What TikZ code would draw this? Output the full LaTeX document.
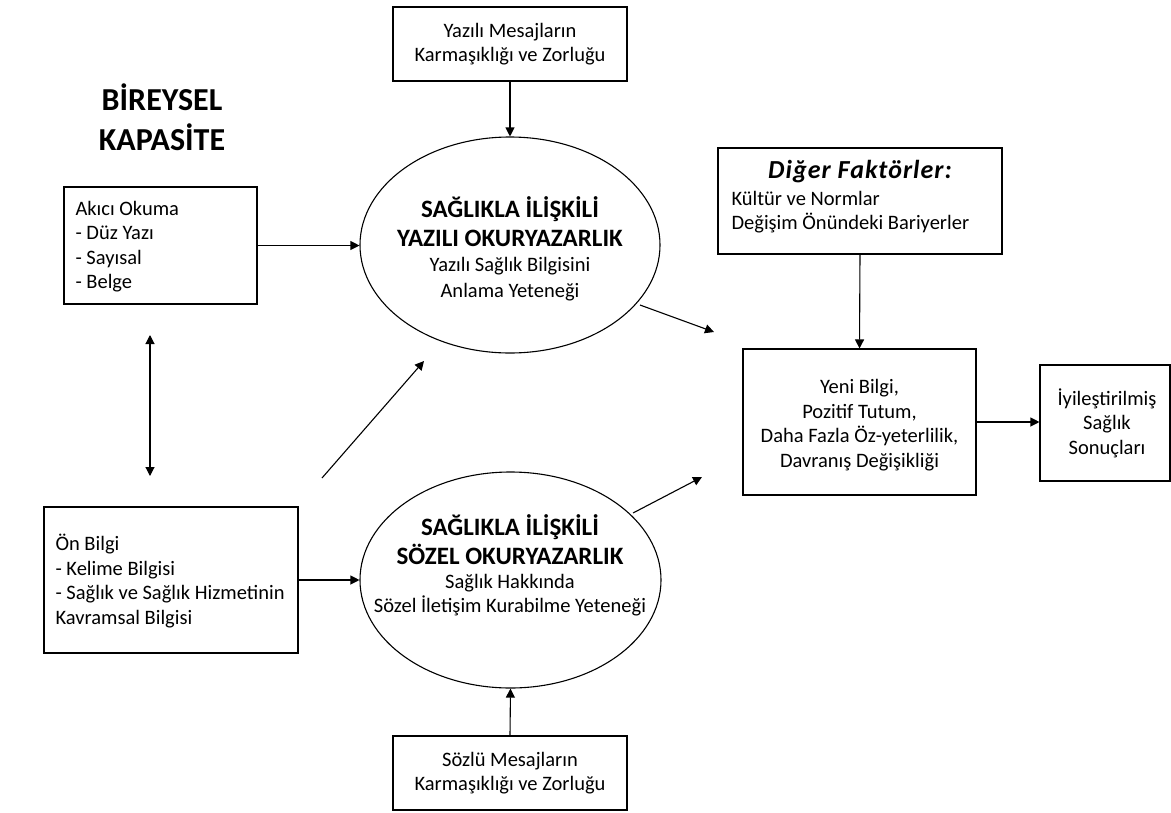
\documentclass[tikz,border=0pt]{standalone}
\usepackage{fontspec}
\setmainfont{Carlito}
\usetikzlibrary{arrows.meta,shapes.geometric}

\tikzset{
  box/.style={draw=black, line width=1.1pt, fill=white, rectangle, inner sep=0pt},
  oval/.style={draw=black, line width=1.1pt, fill=white, ellipse, inner sep=0pt},
  arr/.style={line width=1.1pt, -{Triangle[length=9pt,width=9pt]}},
  darr/.style={line width=1.1pt, {Triangle[length=9pt,width=9pt]}-{Triangle[length=9pt,width=9pt]}},
  txt/.style={font=\fontsize{20.5}{24.5}\selectfont},
  heading/.style={font=\fontsize{25}{29}\selectfont\bfseries, align=center},
}

\begin{document}
\begin{tikzpicture}[x=1pt, y=-1pt]
  \useasboundingbox (0,0) rectangle (1171,812);
  \fill[white] (0,0) rectangle (1171,812);

  % title
  \node[font=\fontsize{32}{40}\selectfont\bfseries, align=center] (title) at (162,117)
    {BİREYSEL\\KAPASİTE};

  % boxes
  \node[box, minimum width=234pt, minimum height=74pt] (yaziliMsg) at (510,44) {};
  \node[txt, align=center] at (yaziliMsg) {Yazılı Mesajların\\Karmaşıklığı ve Zorluğu};

  \node[box, minimum width=193pt, minimum height=117pt] (akici) at (160.5,245.5) {};
  \node[txt, align=left, anchor=west] at (72,246.5) {Akıcı Okuma\\- Düz Yazı\\- Sayısal\\- Belge};

  \node[box, minimum width=254pt, minimum height=146pt] (onbilgi) at (171,580) {};
  \node[txt, align=left, anchor=west] at (52,581) {Ön Bilgi\\- Kelime Bilgisi\\- Sağlık ve Sağlık Hizmetinin\\Kavramsal Bilgisi};

  \node[box, minimum width=284pt, minimum height=106pt] (diger) at (860,201) {};
  \node[font=\fontsize{26}{30}\selectfont\bfseries\itshape\addfontfeatures{LetterSpace=4}] at (860,172) {Diğer Faktörler:};
  \node[txt, align=left, anchor=west] at (728,212) {Kültür ve Normlar\\Değişim Önündeki Bariyerler};

  \node[box, minimum width=233pt, minimum height=146pt] (yeni) at (859.5,422) {};
  \node[txt, align=center] at (859.5,425) {Yeni Bilgi,\\Pozitif Tutum,\\Daha Fazla Öz-yeterlilik,\\Davranış Değişikliği};

  \node[box, minimum width=130pt, minimum height=116pt] (sonuc) at (1105,423) {};
  \node[txt, align=center] at (1107,423) {İyileştirilmiş\\Sağlık\\Sonuçları};

  \node[box, minimum width=234pt, minimum height=74pt] (sozluMsg) at (510,773) {};
  \node[txt, align=center] at (510,773) {Sözlü Mesajların\\Karmaşıklığı ve Zorluğu};

  % ellipses
  \node[oval, minimum width=300pt, minimum height=216pt] (yazili) at (510,245) {};
  \node[heading] at (510,222) {SAĞLIKLA İLİŞKİLİ\\YAZILI OKURYAZARLIK};
  \node[align=center, font=\fontsize{20.5}{26}\selectfont] at (510,279)
    {Yazılı Sağlık Bilgisini\\Anlama Yeteneği};

  \node[oval, minimum width=301pt, minimum height=216pt] (sozel) at (510.5,580) {};
  \node[heading] at (510,540) {SAĞLIKLA İLİŞKİLİ\\SÖZEL OKURYAZARLIK};
  \node[align=center, font=\fontsize{20.5}{24}\selectfont] at (510,595)
    {Sağlık Hakkında\\Sözel İletişim Kurabilme Yeteneği};

  % free ends of the open arrows
  \coordinate (dblTop) at (150,335);
  \coordinate (dblBot) at (150,476);
  \coordinate (diagStart) at (322,478);
  \coordinate (diagEnd) at (424,361);
  \coordinate (upEnd) at (714,332);
  \coordinate (upStart) at (640,305);
  \coordinate (loStart) at (633,513);
  \coordinate (loEnd) at (702,477);

  % connectors
  \draw[arr] (yaziliMsg.south) -- (yazili.north);
  \draw[arr] (akici.east) -- (akici.east -| yazili.west);
  \draw[arr] (onbilgi.east) -- (onbilgi.east -| sozel.west);
  \draw[arr] (sozluMsg.north) -- (sozel.south);
  \draw[arr] (diger.south) -- (yeni.north);
  \draw[arr] (yeni.east) -- (yeni.east -| sonuc.west);
  \draw[darr] (dblTop) -- (dblBot);
  \draw[arr] (diagStart) -- (diagEnd);
  \draw[arr] (upStart) -- (upEnd);
  \draw[arr] (loStart) -- (loEnd);
\end{tikzpicture}
\end{document}
